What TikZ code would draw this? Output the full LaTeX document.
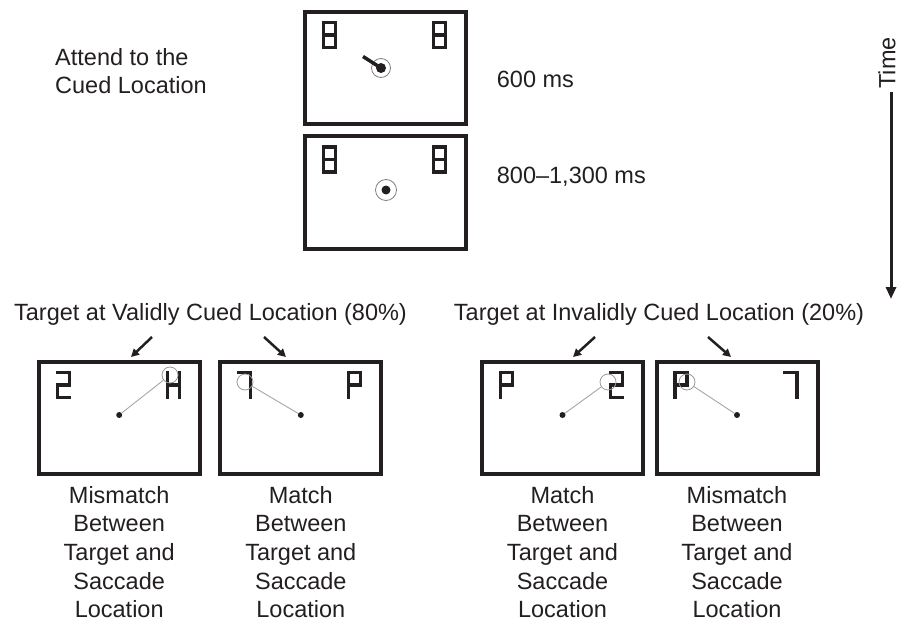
\documentclass[tikz,border=0pt]{standalone}
\usepackage{fontspec}
\setmainfont{Liberation Sans}
\usepackage{tikz}
\usetikzlibrary{positioning, calc, arrows.meta}
\definecolor{ink}{HTML}{231F20}
\tikzset{screen/.style={draw=ink, line width=4pt, minimum width=161pt, minimum height=112pt, inner sep=0pt}}
\tikzset{segment/.style={draw=ink, line width=3.2pt, line cap=rect, line join=miter}}
\tikzset{fixring/.style={circle, draw=gray, line width=0.8pt, inner sep=0pt}}
\tikzset{fixdot/.style={circle, fill=ink, inner sep=0pt}}
\tikzset{targetring/.style={circle, draw=gray!80, line width=0.8pt, minimum size=16pt, inner sep=0pt}}
\tikzset{saccade/.style={gray!70, line width=0.9pt}}
\tikzset{cuearrow/.style={ink, line width=2.5pt, -{Triangle[width=8pt,length=8pt]}}}
\tikzset{timeline/.style={ink, line width=3pt, -{Triangle[width=10pt,length=12pt]}}}
\tikzset{capt/.style={text=ink, inner sep=0pt, font=\fontsize{23.5}{28.6}\selectfont}}
\tikzset{
  pics/digit8/.style={code={\draw[segment] (-6,-12.5) rectangle (6,12.5) (-6,0) -- (6,0);}},
  pics/digit2/.style={code={\draw[segment] (-6,-12.5) -- (6,-12.5) -- (6,0) -- (-6,0) -- (-6,12.5) -- (6,12.5);}},
  pics/digitH/.style={code={\draw[segment] (-6,-12.5) -- (-6,12.5) (6,-12.5) -- (6,12.5) (-6,0) -- (6,0);}},
  pics/digitP/.style={code={\draw[segment] (-6,12.5) -- (-6,-12.5) -- (6,-12.5) -- (6,0) -- (-6,0);}},
  pics/digit7/.style={code={\draw[segment] (-6,-12.5) -- (6,-12.5) -- (6,12.5);}}
}

\begin{document}
\begin{tikzpicture}[x=1pt, y=-1pt]
\useasboundingbox (0,0) rectangle (899,623);

% cue and fixation screens
\node[screen] (t1) at (385.3,68) {};
\node[screen] (t2) at (385.3,192.5) {};
\foreach \n in {t1,t2} {
  \pic at ($(\n)+(-56,-33)$) {digit8};
  \pic at ($(\n)+(54,-33)$) {digit8};
}
\node[fixring, minimum size=19pt] (ring1) at (381,68) {};
\node[fixdot, minimum size=10pt] (fix1) at (ring1) {};
\coordinate (cue) at (363,56.5);
\draw[ink, line width=3.5pt] (cue) -- (fix1.center);
\node[fixring, minimum size=21pt] (ring2) at (386,190) {};
\node[fixdot, minimum size=9pt] (fix2) at (ring2) {};

\node[capt, anchor=north west, align=left] (attend) at (55,48) {Attend to the\\Cued Location};
\node[capt, anchor=base west] (dur1) at (496.7,87.3) {600 ms};
\node[capt, anchor=base west] (dur2) at (496.7,183.3) {800--1,300 ms};

\node[capt, rotate=90] (time) at (887,63) {Time};
\coordinate (tstart) at (891,92);
\coordinate (tend) at (891,299);
\draw[timeline] (tstart) -- (tend);

% target screens
\foreach \n/\x in {b1/119.2, b2/300.8, b3/562.5, b4/737} {
  \node[screen] (\n) at (\x,418) {};
  \node[fixdot, minimum size=6pt] (s\n) at (\x,415) {};
}
\pic at ($(b1)+(-56,-33)$) {digit2};
\pic at ($(b1)+(54,-33)$) {digitH};
\pic at ($(b2)+(-56,-33)$) {digit7};
\pic at ($(b2)+(54,-33)$) {digitP};
\pic at ($(b3)+(-56,-33)$) {digitP};
\pic at ($(b3)+(54,-33)$) {digit2};
\pic at ($(b4)+(-56,-33)$) {digitP};
\pic at ($(b4)+(54,-33)$) {digit7};

\node[targetring] (g1) at (170,375) {};
\node[targetring] (g2) at (245,382) {};
\node[targetring] (g3) at (608,382) {};
\node[targetring] (g4) at (687,382) {};
\draw[saccade] (sb1) -- (g1);
\draw[saccade] (sb2) -- (g2);
\draw[saccade] (sb3) -- (g3);
\draw[saccade] (sb4) -- (g4);

\node[capt, anchor=base] (valid) at (210.5,320) {Target at Validly Cued Location (80\%)};
\node[capt, anchor=base] (invalid) at (659,320) {Target at Invalidly Cued Location (20\%)};
\foreach \i/\xa/\xb in {1/152/131, 2/264/286, 3/595/573, 4/708/731} {
  \coordinate (from\i) at (\xa,337);
  \coordinate (to\i) at (\xb,357);
  \draw[cuearrow] (from\i) -- (to\i);
}

\node[capt, below=10pt of b1, align=center] (lab1) {Mismatch\\Between\\Target and\\Saccade\\Location};
\node[capt, below=10pt of b2, align=center] (lab2) {Match\\Between\\Target and\\Saccade\\Location};
\node[capt, below=10pt of b3, align=center] (lab3) {Match\\Between\\Target and\\Saccade\\Location};
\node[capt, below=10pt of b4, align=center] (lab4) {Mismatch\\Between\\Target and\\Saccade\\Location};
\end{tikzpicture}
\end{document}
